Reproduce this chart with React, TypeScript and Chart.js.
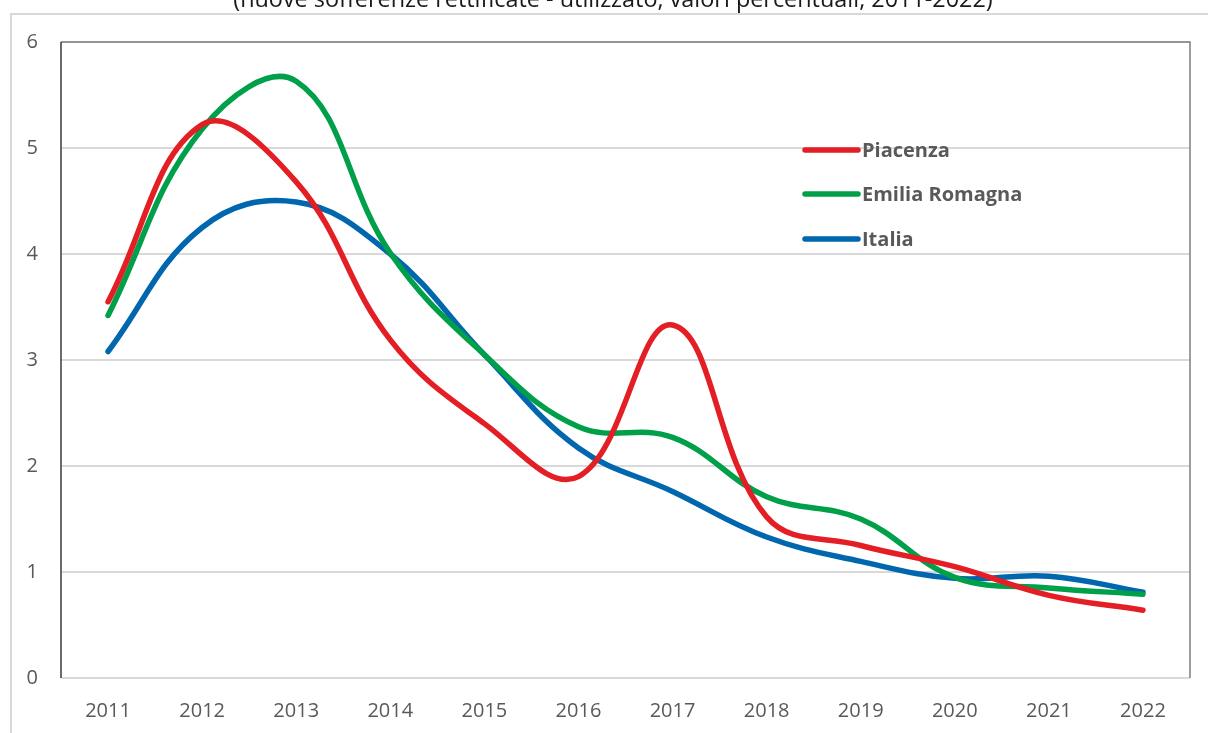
import React, { useEffect, useRef } from "react";
import { Chart, registerables } from "chart.js";

Chart.register(...registerables);

const years = ["2011", "2012", "2013", "2014", "2015", "2016", "2017", "2018", "2019", "2020", "2021", "2022"];
const piacenza = [3.55, 5.22, 4.68, 3.19, 2.4, 1.9, 3.33, 1.52, 1.25, 1.05, 0.78, 0.64];
const emiliaRomagna = [3.42, 5.18, 5.63, 4.01, 3.05, 2.37, 2.27, 1.71, 1.5, 0.95, 0.85, 0.79];
const italia = [3.08, 4.25, 4.49, 4.0, 3.05, 2.17, 1.76, 1.33, 1.1, 0.94, 0.96, 0.81];
const seriesLabels = ["Piacenza", "Emilia Romagna", "Italia"];
const seriesColors = ["#E31E25", "#00A04A", "#0066AE"];
const yMin = 0;
const yMax = 6;
const yStep = 1;
const titleText = "(nuove sofferenze rettificate - utilizzato, valori percentuali, 2011-2022)";

const FONT = "'Open Sans', 'Noto Sans', sans-serif";

const decorPlugin = {
  id: "decor",
  beforeDraw(chart: any) {
    const { ctx, width, height } = chart;
    ctx.save();
    ctx.fillStyle = "#ffffff";
    ctx.fillRect(0, 0, width, height);
    // outer frame
    ctx.strokeStyle = "#d9d9d9";
    ctx.lineWidth = 2;
    ctx.beginPath();
    ctx.moveTo(11, height + 2);
    ctx.lineTo(11, 14);
    ctx.lineTo(width + 2, 14);
    ctx.stroke();
    // title (cut at top)
    ctx.fillStyle = "#1a1a1a";
    let size = 20;
    ctx.font = `${size}px ${FONT}`;
    const w = ctx.measureText(titleText).width;
    size = (size * 760) / w;
    ctx.font = `${size}px ${FONT}`;
    ctx.textAlign = "center";
    ctx.textBaseline = "alphabetic";
    ctx.fillText(titleText, 613, 7);
    ctx.restore();
  },
  beforeDatasetsDraw(chart: any) {
    const { ctx, chartArea } = chart;
    const { left, right, top, bottom } = chartArea;
    ctx.save();
    ctx.lineWidth = 1.5;
    ctx.strokeStyle = "#7f7f7f";
    ctx.beginPath();
    ctx.moveTo(left, top);
    ctx.lineTo(right, top);
    ctx.lineTo(right, bottom);
    ctx.stroke();
    ctx.strokeStyle = "#3a3a3a";
    ctx.beginPath();
    ctx.moveTo(left, top);
    ctx.lineTo(left, bottom);
    ctx.stroke();
    ctx.restore();
  },
  afterDraw(chart: any) {
    const { ctx } = chart;
    const x0 = 805;
    const x1 = 858;
    const rowY = [150, 194, 239];
    ctx.save();
    chart.data.datasets.forEach((ds: any, i: number) => {
      const y = rowY[i];
      ctx.strokeStyle = ds.borderColor;
      ctx.lineWidth = 5.5;
      ctx.lineCap = "round";
      ctx.beginPath();
      ctx.moveTo(x0, y);
      ctx.lineTo(x1, y);
      ctx.stroke();
      ctx.fillStyle = "#595959";
      ctx.font = `bold 20px ${FONT}`;
      ctx.textAlign = "left";
      ctx.textBaseline = "alphabetic";
      ctx.fillText(ds.label, 862, y + 7);
    });
    ctx.restore();
  },
};

export default function App() {
  const ref = useRef<HTMLCanvasElement | null>(null);
  useEffect(() => {
    if (!ref.current) return;
    const datasets = [piacenza, emiliaRomagna, italia].map((d, i) => ({
      label: seriesLabels[i],
      data: d,
      borderColor: seriesColors[i],
      backgroundColor: seriesColors[i],
      borderWidth: 5.5,
      borderCapStyle: "round" as const,
      borderJoinStyle: "round" as const,
      pointRadius: 0,
      pointHoverRadius: 0,
      tension: 0.4,
      fill: false,
    }));
    const chart = new Chart(ref.current, {
      type: "line",
      data: { labels: years, datasets },
      options: {
        animation: false,
        responsive: false,
        maintainAspectRatio: false,
        layout: { padding: { top: 42, right: 18, left: 0, bottom: 0 } },
        plugins: { legend: { display: false }, tooltip: { enabled: false }, title: { display: false } },
        scales: {
          x: {
            offset: true,
            grid: { display: false },
            border: { display: false },
            ticks: { color: "#595959", font: { family: FONT, size: 20 }, padding: 13, maxRotation: 0 },
            afterFit: (s: any) => {
              s.height = 55;
            },
          },
          y: {
            min: yMin,
            max: yMax,
            grid: { color: "#d9d9d9", lineWidth: 2, drawTicks: false },
            border: { display: false },
            ticks: { stepSize: yStep, color: "#595959", font: { family: FONT, size: 20 }, padding: 23 },
            afterFit: (s: any) => {
              s.width = 61;
            },
          },
        },
      },
      plugins: [decorPlugin],
    });
    return () => chart.destroy();
  }, []);
  return (
    <div style={{ position: "fixed", left: 0, top: 0, width: 1208, height: 733, background: "#fff" }}>
      <canvas ref={ref} width={1208} height={733} style={{ display: "block", width: 1208, height: 733 }} />
    </div>
  );
}
